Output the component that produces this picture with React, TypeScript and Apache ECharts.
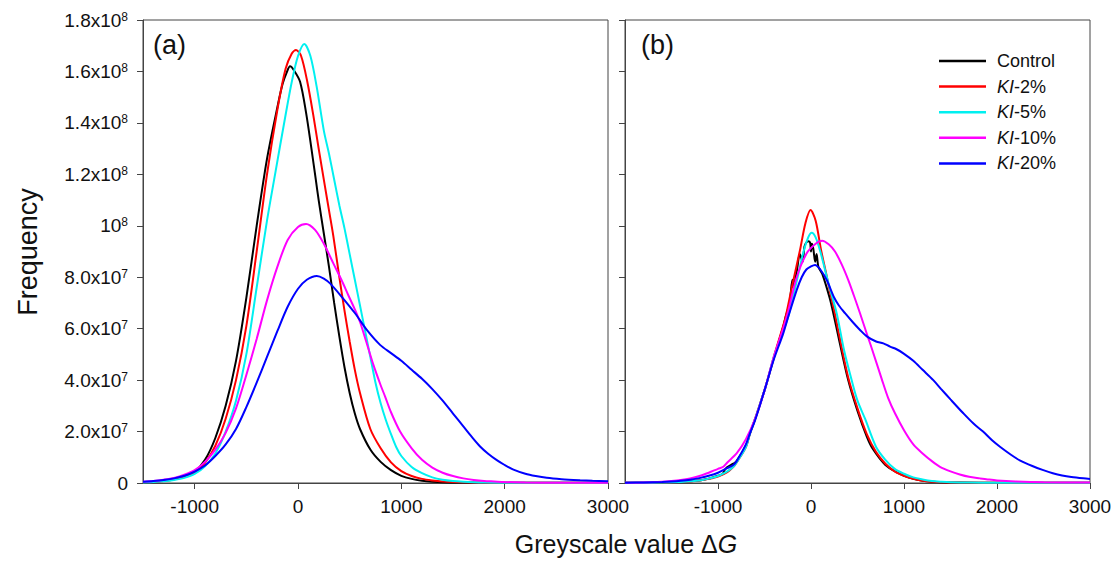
import React, { useEffect, useRef } from "react";
import * as echarts from "echarts";

// ---------- data (y in units of 10^7) ----------
const SERIES_NAMES = ["Control", "KI-2%", "KI-5%", "KI-10%", "KI-20%"];
const SERIES_COLORS = ["#000000", "#ff0000", "#00f0f0", "#ff00ff", "#0000ff"];

const X_TICKS = [-1000, 0, 1000, 2000, 3000];
const Y_TICK_LABELS = ["0", "2.0x10^7", "4.0x10^7", "6.0x10^7", "8.0x10^7", "10^8", "1.2x10^8", "1.4x10^8", "1.6x10^8", "1.8x10^8"];

// Panel (a)
const aControl = [[-1500,0.03],[-1400,0.05],[-1300,0.09],[-1200,0.16],[-1100,0.27],[-1000,0.44],[-900,0.9],[-800,1.75],[-700,3.0],[-600,4.75],[-500,7.2],[-400,10.0],[-300,12.6],[-200,14.6],[-150,15.5],[-110,15.95],[-77,16.2],[-40,16.05],[20,15.6],[78,14.4],[130,13.0],[172,11.8],[200,11.0],[250,9.7],[300,8.4],[350,7.0],[400,5.7],[450,4.5],[500,3.5],[550,2.7],[600,2.1],[700,1.3],[800,0.82],[900,0.5],[1000,0.28],[1100,0.16],[1200,0.09],[1300,0.05],[1400,0.03],[1600,0.02],[2000,0.01],[3000,0.01]];
const aKI2 = [[-1500,0.03],[-1400,0.05],[-1300,0.08],[-1200,0.14],[-1100,0.23],[-1000,0.4],[-900,0.78],[-800,1.45],[-700,2.5],[-600,4.0],[-500,6.1],[-400,9.0],[-300,12.0],[-200,14.5],[-120,16.1],[-60,16.7],[-19,16.83],[30,16.6],[90,15.6],[148,14.3],[200,13.0],[262,11.5],[300,10.6],[342,9.6],[400,8.0],[450,6.7],[500,5.5],[550,4.4],[600,3.5],[700,2.1],[800,1.35],[900,0.8],[1000,0.46],[1100,0.27],[1200,0.16],[1300,0.1],[1400,0.06],[1500,0.04],[1700,0.02],[2000,0.01],[3000,0.01]];
const aKI5 = [[-1500,0.02],[-1400,0.04],[-1300,0.07],[-1200,0.12],[-1100,0.2],[-1000,0.35],[-900,0.65],[-800,1.15],[-700,2.0],[-600,3.2],[-500,5.0],[-400,7.6],[-300,10.2],[-222,12.0],[-125,14.2],[-60,15.6],[0,16.6],[61,17.07],[120,16.6],[181,15.4],[250,13.7],[300,12.8],[350,11.8],[400,10.8],[450,9.9],[500,8.9],[550,7.9],[600,6.9],[650,5.9],[700,4.9],[750,3.9],[800,3.1],[850,2.45],[900,1.9],[950,1.4],[1000,1.05],[1100,0.62],[1200,0.38],[1300,0.22],[1400,0.13],[1500,0.08],[1600,0.05],[1700,0.03],[1800,0.02],[2100,0.01],[3000,0.01]];
const aKI10 = [[-1500,0.05],[-1400,0.08],[-1300,0.13],[-1200,0.2],[-1100,0.32],[-1000,0.5],[-900,0.82],[-800,1.3],[-700,1.95],[-600,2.9],[-500,4.2],[-400,5.6],[-300,7.1],[-200,8.4],[-100,9.45],[0,9.95],[78,10.07],[165,9.84],[250,9.3],[342,8.54],[420,7.9],[487,7.3],[550,6.75],[601,6.25],[660,5.5],[729,4.6],[800,3.8],[843,3.36],[900,2.75],[988,2.0],[1100,1.35],[1200,0.9],[1300,0.6],[1400,0.4],[1500,0.27],[1600,0.18],[1700,0.12],[1800,0.08],[1900,0.06],[2000,0.04],[2200,0.02],[2500,0.01],[3000,0.01]];
const aKI20 = [[-1500,0.05],[-1400,0.08],[-1300,0.12],[-1200,0.18],[-1100,0.28],[-1000,0.44],[-900,0.68],[-800,1.05],[-700,1.5],[-600,2.1],[-500,2.95],[-400,3.9],[-300,4.9],[-200,5.9],[-100,6.85],[0,7.55],[85,7.9],[182,8.05],[250,7.95],[310,7.76],[423,7.24],[552,6.6],[666,5.95],[794,5.37],[900,5.05],[1000,4.75],[1100,4.4],[1200,4.05],[1300,3.65],[1400,3.2],[1500,2.7],[1600,2.2],[1680,1.8],[1762,1.42],[1840,1.14],[1924,0.89],[2000,0.7],[2085,0.52],[2200,0.36],[2300,0.27],[2407,0.2],[2550,0.15],[2730,0.11],[2850,0.09],[3000,0.07]];

// Panel (b)
const bControl = [[-2000,0.01],[-1800,0.01],[-1600,0.02],[-1400,0.04],[-1200,0.1],[-1100,0.17],[-1000,0.28],[-950,0.35],[-930,0.5],[-900,0.62],[-835,0.75],[-800,0.85],[-700,1.45],[-656,1.93],[-600,2.5],[-500,3.6],[-477,3.88],[-400,4.85],[-300,6.05],[-272,6.47],[-230,7.0],[-200,7.9],[-190,7.6],[-150,8.3],[-120,8.9],[-90,8.6],[-70,9.2],[-50,9.35],[-30,9.4],[-10,9.35],[0,9.0],[10,9.3],[25,9.1],[45,8.6],[60,8.9],[80,8.4],[124,8.1],[200,7.2],[240,6.6],[300,5.6],[400,4.0],[500,2.8],[600,1.8],[660,1.35],[800,0.7],[940,0.38],[1000,0.28],[1100,0.16],[1200,0.09],[1300,0.05],[1400,0.03],[1600,0.02],[2000,0.01],[3000,0.01]];
const bKI2 = [[-2000,0.01],[-1800,0.01],[-1600,0.02],[-1400,0.04],[-1200,0.1],[-1100,0.16],[-1000,0.25],[-900,0.42],[-835,0.63],[-800,0.8],[-700,1.4],[-656,1.93],[-600,2.5],[-500,3.6],[-477,3.88],[-400,4.9],[-300,6.1],[-272,6.47],[-197,7.76],[-118,9.06],[-60,10.1],[-5,10.61],[50,10.2],[108,9.06],[160,8.2],[200,7.5],[250,6.7],[300,5.8],[400,4.1],[500,2.9],[600,1.9],[700,1.2],[800,0.75],[900,0.45],[1000,0.28],[1100,0.16],[1200,0.09],[1300,0.05],[1400,0.03],[1600,0.02],[2000,0.01],[3000,0.01]];
const bKI5 = [[-2000,0.01],[-1800,0.01],[-1600,0.02],[-1400,0.04],[-1200,0.1],[-1100,0.17],[-1000,0.27],[-900,0.45],[-835,0.63],[-800,0.8],[-700,1.4],[-656,1.93],[-600,2.5],[-500,3.6],[-477,3.88],[-400,4.9],[-300,5.9],[-244,6.47],[-150,7.9],[-80,9.0],[-30,9.55],[8,9.73],[50,9.55],[100,9.0],[150,8.3],[200,7.6],[276,6.6],[355,5.17],[437,4.0],[500,3.2],[581,2.5],[700,1.4],[800,0.9],[900,0.55],[1000,0.36],[1100,0.22],[1200,0.14],[1300,0.08],[1400,0.05],[1500,0.03],[1700,0.02],[2000,0.01],[3000,0.01]];
const bKI10 = [[-2000,0.01],[-1800,0.02],[-1600,0.05],[-1500,0.08],[-1400,0.12],[-1300,0.18],[-1200,0.27],[-1100,0.4],[-1000,0.55],[-943,0.63],[-900,0.8],[-800,1.15],[-700,1.7],[-600,2.5],[-500,3.6],[-400,4.9],[-300,6.0],[-244,6.7],[-154,8.0],[-46,8.93],[50,9.3],[120,9.42],[190,9.28],[258,9.0],[330,8.5],[401,7.89],[460,7.3],[527,6.6],[600,5.8],[652,5.25],[760,4.05],[830,3.3],[903,2.71],[1000,2.05],[1100,1.5],[1200,1.15],[1300,0.85],[1387,0.63],[1500,0.45],[1600,0.33],[1700,0.24],[1817,0.18],[1900,0.14],[2000,0.1],[2200,0.06],[2500,0.03],[3000,0.02]];
const bKI20 = [[-2000,0.01],[-1800,0.02],[-1600,0.04],[-1500,0.06],[-1400,0.09],[-1300,0.13],[-1200,0.19],[-1100,0.28],[-1000,0.4],[-900,0.58],[-835,0.7],[-800,0.85],[-700,1.5],[-656,1.93],[-600,2.45],[-500,3.6],[-477,3.88],[-400,4.8],[-300,5.8],[-244,6.47],[-154,7.5],[-100,8.0],[-50,8.3],[0,8.42],[43,8.48],[100,8.3],[169,7.89],[250,7.2],[300,6.9],[366,6.6],[450,6.25],[527,5.95],[600,5.7],[700,5.5],[778,5.43],[850,5.3],[920,5.2],[993,5.04],[1100,4.75],[1200,4.4],[1315,4.0],[1400,3.65],[1500,3.25],[1638,2.71],[1750,2.3],[1850,2.0],[1950,1.65],[2032,1.41],[2150,1.1],[2250,0.87],[2380,0.66],[2498,0.5],[2600,0.38],[2700,0.29],[2800,0.23],[2928,0.18],[3000,0.16]];

const PANEL_A = [aControl, aKI2, aKI5, aKI10, aKI20];
const PANEL_B = [bControl, bKI2, bKI5, bKI10, bKI20];

const FONT = "'Liberation Sans', Arial, Helvetica, sans-serif";
const AXIS_COLOR = "#444";

function yLabel(v: number): string {
  const s = Y_TICK_LABELS[Math.round(v / 2)] ?? "";
  if (s.indexOf("^") < 0) return `{b|${s}}`;
  const [base, exp] = s.split("^");
  return `{b|${base}}{s|${exp}}`;
}

export default function App() {
  const ref = useRef<HTMLDivElement>(null);
  useEffect(() => {
    document.body.style.margin = "0";
    if (!ref.current) return;
    const chart = echarts.init(ref.current, undefined, { renderer: "svg" });

    const grids = [
      { left: 143, top: 20, width: 465, height: 463 },
      { left: 625, top: 20, width: 465, height: 463 },
    ].map((g) => ({ ...g, show: true, borderColor: AXIS_COLOR, borderWidth: 1, backgroundColor: "transparent", containLabel: false }));

    const xAxisBase = (idx: number, min: number) => ({
      type: "value",
      gridIndex: idx,
      min,
      max: 3000,
      splitLine: { show: false },
      axisLine: { show: true, onZero: false, lineStyle: { color: AXIS_COLOR, width: 1 } },
      axisTick: { show: true, length: 6, customValues: X_TICKS, lineStyle: { color: AXIS_COLOR } },
      axisLabel: {
        show: true,
        customValues: X_TICKS,
        margin: 14,
        fontSize: 19,
        color: "#111",
        fontFamily: FONT,
        formatter: (v: number) => String(v),
      },
    });

    const yAxisBase = (idx: number, showLabel: boolean) => ({
      type: "value",
      gridIndex: idx,
      min: 0,
      max: 18,
      interval: 2,
      splitLine: { show: false },
      axisLine: { show: true, onZero: false, lineStyle: { color: AXIS_COLOR, width: 1 } },
      axisTick: { show: true, length: 6, lineStyle: { color: AXIS_COLOR } },
      axisLabel: {
        show: showLabel,
        margin: 15,
        formatter: yLabel,
        color: "#111",
        fontFamily: FONT,
        rich: {
          b: { fontSize: 19, fontFamily: FONT, color: "#111", lineHeight: 19 },
          s: { fontSize: 12, fontFamily: FONT, color: "#111", verticalAlign: "top", lineHeight: 12 },
        },
      },
    });

    const series: any[] = [];
    [PANEL_A, PANEL_B].forEach((panel, gi) => {
      panel.forEach((data, i) => {
        series.push({
          type: "line",
          name: SERIES_NAMES[i],
          xAxisIndex: gi,
          yAxisIndex: gi,
          data,
          showSymbol: false,
          smooth: 0.3,
          lineStyle: { color: SERIES_COLORS[i], width: 2 },
          itemStyle: { color: SERIES_COLORS[i] },
          silent: true,
        });
      });
    });

    chart.setOption({
      animation: false,
      backgroundColor: "#ffffff",
      grid: grids,
      xAxis: [xAxisBase(0, -1500), xAxisBase(1, -2000)],
      yAxis: [yAxisBase(0, true), yAxisBase(1, false)],
      legend: {
        orient: "vertical",
        left: 934,
        top: 46,
        itemWidth: 47,
        itemHeight: 2.5,
        itemGap: 5.6,
        icon: "rect",
        selectedMode: false,
        data: SERIES_NAMES,
        formatter: (name: string) =>
          name.startsWith("KI") ? `{i|KI}{n|${name.slice(2)}}` : `{n|${name}}`,
        textStyle: {
          fontSize: 18,
          fontFamily: FONT,
          color: "#111",
          lineHeight: 20,
          padding: [0, 0, 0, 6],
          rich: {
            i: { fontSize: 18, fontStyle: "italic", fontFamily: FONT, color: "#111", lineHeight: 20 },
            n: { fontSize: 18, fontFamily: FONT, color: "#111", lineHeight: 20 },
          },
        },
      },
      graphic: [
        { type: "text", left: 153, top: 31, style: { text: "(a)", fontSize: 27, fontFamily: FONT, fill: "#111" } },
        { type: "text", left: 641, top: 31, style: { text: "(b)", fontSize: 27, fontFamily: FONT, fill: "#111" } },
        {
          type: "text",
          x: 28,
          y: 252,
          rotation: Math.PI / 2,
          style: { text: "Frequency", fontSize: 27, fontFamily: FONT, fill: "#111", align: "center", verticalAlign: "middle" },
        },
        {
          type: "text",
          x: 626,
          y: 544,
          style: {
            text: "{n|Greyscale value Δ}{i|G}",
            align: "center",
            verticalAlign: "middle",
            rich: {
              n: { fontSize: 25, fontFamily: FONT, fill: "#111" },
              i: { fontSize: 25, fontFamily: FONT, fill: "#111", fontStyle: "italic" },
            },
          },
        },
      ],
      series,
    });

    return () => chart.dispose();
  }, []);

  return <div ref={ref} style={{ width: 1115, height: 574 }} />;
}
